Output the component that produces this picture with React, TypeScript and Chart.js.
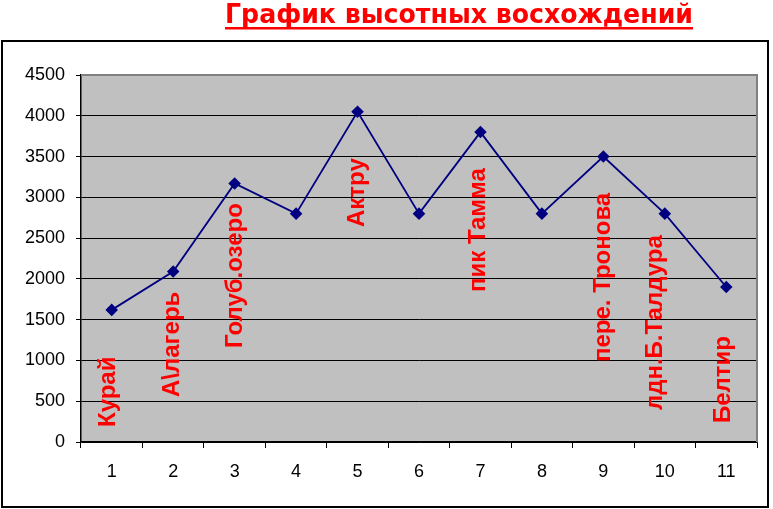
import React, { useEffect, useRef } from "react";
import { Chart, registerables } from "chart.js";

Chart.register(...registerables);

const chartTitle = "График высотных восхождений";
const categories = ["1", "2", "3", "4", "5", "6", "7", "8", "9", "10", "11"];
const heights = [1620, 2090, 3170, 2800, 4050, 2800, 3800, 2800, 3500, 2800, 1900];
const yMin = 0;
const yMax = 4500;
const yStep = 500;

const placeNames = [
  "Курай",
  "А\\лагерь",
  "Голуб.озеро",
  "Актру",
  "пик Тамма",
  "пере. Тронова",
  "лдн.Б.Талдура",
  "Белтир",
];
// position of each place label along the category axis (0 = first category)
const placeCategory = [0.05, 1.09, 2.12, 4.1, 6.07, 8.1, 8.95, 10.06];
// height value where each rotated label starts (bottom end of the text)
const placeStartValue = [184, 552, 1153, 2636, 1839, 981, 392, 233];

const decorPlugin = {
  id: "decor",
  beforeDraw(chart: any) {
    const { ctx, chartArea, width, height } = chart;
    ctx.save();
    ctx.fillStyle = "#ffffff";
    ctx.fillRect(0, 0, width, height);
    // outer frame
    ctx.strokeStyle = "#000000";
    ctx.lineWidth = 2;
    ctx.strokeRect(2, 41, 766, 466);
    // plot background
    ctx.fillStyle = "#C0C0C0";
    ctx.fillRect(chartArea.left, chartArea.top, chartArea.right - chartArea.left, chartArea.bottom - chartArea.top);
    ctx.restore();
  },
  beforeDatasetsDraw(chart: any) {
    const { ctx, chartArea } = chart;
    ctx.save();
    ctx.strokeStyle = "#808080";
    ctx.lineWidth = 2;
    ctx.beginPath();
    ctx.moveTo(chartArea.left, chartArea.top);
    ctx.lineTo(chartArea.right, chartArea.top);
    ctx.lineTo(chartArea.right, chartArea.bottom);
    ctx.stroke();
    ctx.restore();
  },
  afterDatasetsDraw(chart: any) {
    const { ctx } = chart;
    const x = chart.scales.x;
    const y = chart.scales.y;
    const x0 = x.getPixelForValue(0);
    const step = x.getPixelForValue(1) - x0;
    ctx.save();
    ctx.fillStyle = "#FF0000";
    ctx.font = 'bold 24px "Liberation Sans", Arial, sans-serif';
    ctx.textAlign = "left";
    ctx.textBaseline = "alphabetic";
    placeNames.forEach((name, i) => {
      const px = x0 + placeCategory[i] * step;
      const py = y.getPixelForValue(placeStartValue[i]);
      ctx.save();
      ctx.translate(px, py);
      ctx.rotate(-Math.PI / 2);
      ctx.fillText(name, 0, 0);
      ctx.restore();
    });
    ctx.restore();
  },
  afterDraw(chart: any) {
    const { ctx } = chart;
    ctx.save();
    ctx.fillStyle = "#FF0000";
    ctx.font = 'bold 26px "DejaVu Sans", sans-serif';
    ctx.textAlign = "center";
    ctx.textBaseline = "alphabetic";
    const w = ctx.measureText(chartTitle).width;
    const targetW = 468;
    const sx = targetW / w;
    const cx = 459;
    ctx.translate(cx, 23);
    ctx.scale(sx, 1);
    ctx.fillText(chartTitle, 0, 0);
    ctx.restore();
    ctx.save();
    ctx.fillStyle = "#FF0000";
    ctx.fillRect(cx - targetW / 2, 27, targetW, 2.5);
    ctx.restore();
  },
};

export default function App() {
  const canvasRef = useRef<HTMLCanvasElement | null>(null);

  useEffect(() => {
    if (!canvasRef.current) return;
    const tickFont = { family: '"Liberation Sans", Arial, sans-serif', size: 18 };
    const chart = new Chart(canvasRef.current, {
      type: "line",
      data: {
        labels: categories,
        datasets: [
          {
            data: heights,
            borderColor: "#000080",
            borderWidth: 1.8,
            backgroundColor: "#000080",
            pointStyle: "rectRot",
            pointRadius: 5,
            pointBackgroundColor: "#000080",
            pointBorderColor: "#000080",
            tension: 0,
            fill: false,
          },
        ],
      },
      options: {
        animation: false,
        responsive: false,
        devicePixelRatio: 1,
        layout: { padding: { top: 75, right: 16, left: 0, bottom: 0 } },
        plugins: {
          legend: { display: false },
          tooltip: { enabled: false },
          title: { display: false },
        },
        scales: {
          x: {
            type: "category",
            offset: true,
            grid: {
              offset: true,
              drawOnChartArea: false,
              drawTicks: true,
              tickLength: 6,
              tickColor: "#000000",
              color: "#000000",
            },
            border: { color: "#000000", width: 1.5 },
            ticks: { color: "#000000", font: tickFont, padding: 13, maxRotation: 0 },
            afterFit(scale: any) {
              scale.height = 67;
            },
          },
          y: {
            min: yMin,
            max: yMax,
            grid: {
              color: (c: any) => (c.tick && c.tick.value === yMax ? "#808080" : "#000000"),
              tickColor: "#000000",
              tickLength: 5,
              lineWidth: 1,
            },
            border: { color: "#000000", width: 1.5 },
            ticks: {
              stepSize: yStep,
              color: "#000000",
              font: tickFont,
              padding: 11,
              callback: (v: any) => String(v),
            },
            afterFit(scale: any) {
              scale.width = 81;
            },
          },
        },
      },
      plugins: [decorPlugin],
    });
    return () => chart.destroy();
  }, []);

  return (
    <div style={{ position: "absolute", left: 0, top: 0, width: 773, height: 509 }}>
      <canvas ref={canvasRef} width={773} height={509} style={{ display: "block" }} />
    </div>
  );
}
